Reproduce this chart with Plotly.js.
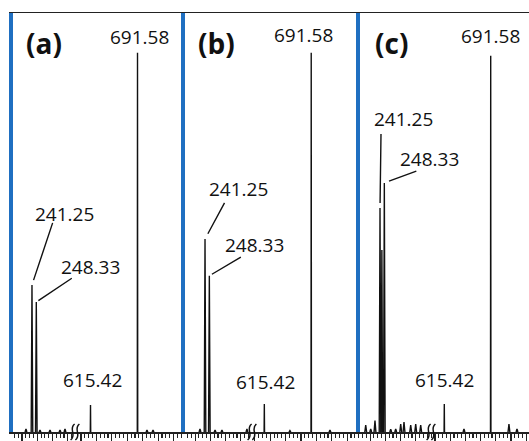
<!DOCTYPE html>
<html><head><meta charset="utf-8">
<script src="https://cdn.plot.ly/plotly-3.0.1.min.js"></script>
<style>html,body{margin:0;padding:0;background:#fff}#chart{width:529px;height:441px}</style>
</head><body><div id="chart"></div>
<script>
// ---- data ----
const panelLabels = ['(a)', '(b)', '(c)'];
const peakMz = [241.25, 248.33, 615.42, 691.58];
const peakLabels = ['241.25', '248.33', '615.42', '691.58'];
const intensityA = [38.8, 34.3, 7.1, 100];
const intensityB = [50.9, 41.2, 7.4, 100];
const intensityC = [59.1, 65.7, 7.4, 99.2];
const minorMzA = [231.4, 254.4, 270.8, 287.2, 295.4, 706.9, 716.7];
const minorIntA = [0.8, 0.5, 0.5, 0.5, 0.8, 0.5, 0.5];
const minorMzB = [233.0, 257.7, 269.0, 310.0, 657.0, 722.0];
const minorIntB = [0.8, 0.5, 0.5, 0.8, 0.4, 0.5];
const minorMzC = [217.8, 226.0, 233.0, 244.3, 258.8, 267.0, 275.2, 280.6, 291.6, 299.8, 308.0, 647.7, 721.5, 734.7];
const minorIntC = [1.8, 0.8, 3.0, 48.0, 0.7, 0.8, 2.1, 2.6, 1.8, 2.1, 1.8, 0.8, 2.1, 0.8];

// ---- layout geometry (pixels) ----
const W = 529, H = 441, TOP = 13, BASE = 432;
const panels = [
  {left: 12.5, brk: 75, right: 184.5, r1: [209.3, 311.8], r2: [590.3, 767.7],
   ints: intensityA, mz2: minorMzA, in2: minorIntA,
   lead: [[21, -63, 5], [36, -24, 2.5]], txt: [[33, 71], [54, 35]], t615: [1.5, 25], t691: [2, 16]},
  {left: 184.5, brk: 252, right: 359.5, r1: [207.6, 318.3], r2: [595.4, 770.0],
   ints: intensityB, mz2: minorMzB, in2: minorIntB,
   lead: [[20, -37, 6], [32, -19, 3]], txt: [[33.5, 49.5], [44.7, 30.5]], t615: [0.7, 22], t691: [-8, 18]},
  {left: 359.5, brk: 431, right: 529, r1: [207.6, 324.9], r2: [593.6, 754.4],
   ints: intensityC, mz2: minorMzC, in2: minorIntC,
   lead: [[1, -75, 5], [32.5, -12, 5]], txt: [[23, 88.5], [45.5, 23.5]], t615: [0, 24], t691: [0, 20]}
];
const px = v => v / W;
const py = v => 1 - v / H;
const ydom = [py(BASE), py(TOP)];
const ink = '#111';
const blue = '#1f6fc1';
const numFont = {family: 'Open Sans, sans-serif', size: 19, color: ink};

const traces = [];
const layout = {
  width: W, height: H, margin: {l: 0, r: 0, t: 0, b: 0},
  paper_bgcolor: '#fff', plot_bgcolor: 'rgba(0,0,0,0)', showlegend: false,
  annotations: [], shapes: []
};

function addPeaks(obj, m, h, w) {
  obj.x.push(m - w, m, m + w, null);
  obj.y.push(0, h, 0, null);
}

panels.forEach((p, i) => {
  const xa1 = 'x' + (2 * i + 1 === 1 ? '' : 2 * i + 1);
  const xa2 = 'x' + (2 * i + 2);
  const ya = 'y' + (i === 0 ? '' : i + 1);
  const axCommon = {
    showticklabels: false, showgrid: false, zeroline: false,
    showline: true, linecolor: '#222', linewidth: 1.5, mirror: true,
    ticks: 'outside', ticklen: 7, tickwidth: 1.2, tickcolor: '#222', tick0: 0, dtick: 25,
    minor: {ticks: 'outside', ticklen: 4.5, tickwidth: 1.1, tickcolor: '#222', dtick: 6.25},
    anchor: ya, fixedrange: true
  };
  layout['xaxis' + (2 * i + 1 === 1 ? '' : 2 * i + 1)] = Object.assign({}, axCommon, {domain: [px(p.left), px(p.brk)], range: p.r1});
  layout['xaxis' + (2 * i + 2)] = Object.assign({}, axCommon, {domain: [px(p.brk), px(p.right)], range: p.r2});
  layout['yaxis' + (i === 0 ? '' : i + 1)] = {
    domain: ydom, range: [0, 110.5], anchor: xa1,
    showticklabels: false, showgrid: false, zeroline: false, ticks: '',
    showline: true, linecolor: blue, linewidth: 3.5, fixedrange: true
  };

  const s1 = {x: [], y: []}, s2 = {x: [], y: []};
  peakMz.forEach((m, k) => {
    const seg = m < 400 ? s1 : s2;
    addPeaks(seg, m, p.ints[k], m < 400 ? 1.3 : 0.35);
  });
  p.mz2.forEach((m, k) => {
    const seg = m < 400 ? s1 : s2;
    addPeaks(seg, m, p.in2[k], p.in2[k] > 10 ? 1.2 : 1.5);
  });
  [[s1, xa1], [s2, xa2]].forEach(([s, xa]) => {
    traces.push({type: 'scatter', mode: 'lines', x: s.x, y: s.y, xaxis: xa, yaxis: ya,
      line: {color: ink, width: 1.4}, hoverinfo: 'skip', cliponaxis: false});
  });

  // labels 241.25 and 248.33 with leader lines
  [0, 1].forEach(k => {
    layout.annotations.push({
      xref: xa1, yref: ya, x: peakMz[k], y: p.ints[k], text: ' ', font: {size: 1},
      borderpad: 0, showarrow: true, arrowhead: 0, arrowwidth: 1.4, arrowcolor: ink,
      ax: p.lead[k][0], ay: p.lead[k][1], standoff: p.lead[k][2]
    });
    layout.annotations.push({
      xref: xa1, yref: ya, x: peakMz[k], y: p.ints[k], text: peakLabels[k], font: numFont,
      showarrow: false, xanchor: 'center', yanchor: 'middle',
      xshift: p.txt[k][0], yshift: p.txt[k][1]
    });
  });
  layout.annotations.push({
    xref: xa2, yref: ya, x: peakMz[2], y: p.ints[2], text: peakLabels[2], font: numFont,
    showarrow: false, xanchor: 'center', yanchor: 'middle', xshift: p.t615[0], yshift: p.t615[1]
  });
  layout.annotations.push({
    xref: xa2, yref: ya, x: peakMz[3], y: p.ints[3], text: peakLabels[3], font: numFont,
    showarrow: false, xanchor: 'center', yanchor: 'middle', xshift: p.t691[0], yshift: p.t691[1]
  });
  layout.annotations.push({
    xref: 'paper', yref: 'paper', x: px(p.left + 31.5), y: py(43),
    text: '<b>' + panelLabels[i] + '</b>',
    font: {family: 'Open Sans, sans-serif', size: 28, color: ink},
    showarrow: false, xanchor: 'center', yanchor: 'middle'
  });

  // axis-break squiggles
  [-2.4, 2.4].forEach(dx => {
    const c = p.brk + dx;
    const path = `M ${px(c - 2)} ${py(BASE + 8)} C ${px(c + 4.5)} ${py(BASE + 3)}, ${px(c - 4.5)} ${py(BASE - 3)}, ${px(c + 2)} ${py(BASE - 8)}`;
    layout.shapes.push({type: 'path', xref: 'paper', yref: 'paper', path: path,
      line: {color: ink, width: 1.5}});
  });
});

Plotly.newPlot('chart', traces, layout, {staticPlot: true, displayModeBar: false});
</script>
</body></html>
